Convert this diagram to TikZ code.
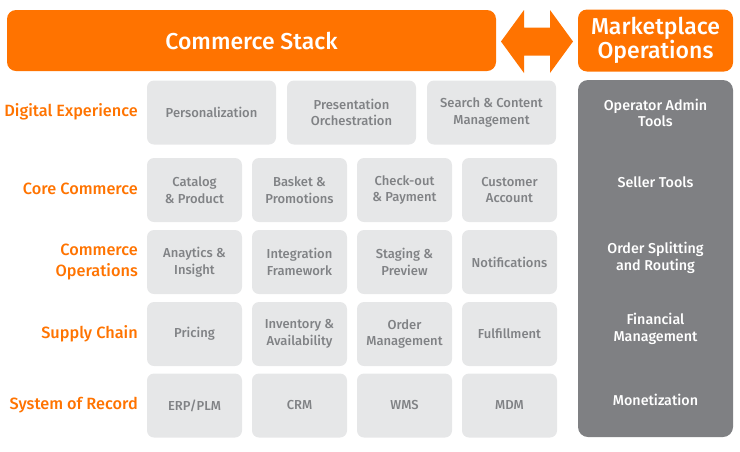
\documentclass[tikz,border=0pt]{standalone}
\usepackage{fontspec}
\setmainfont{Fira Sans Medium}
\usetikzlibrary{positioning,calc}
\definecolor{stackorange}{HTML}{FF7300}
\definecolor{tilegray}{HTML}{E6E7E8}
\definecolor{textgray}{HTML}{808285}
\definecolor{opsgray}{HTML}{7F8083}

\begin{document}
\begin{tikzpicture}[x=1pt,y=-1pt,
  bar/.style={fill=stackorange,text=white,rounded corners=9pt,inner sep=0pt,align=center,
    font=\fontsize{23}{23.5}\selectfont},
  tile/.style={fill=tilegray,text=textgray,rounded corners=7pt,inner sep=0pt,align=center,
    minimum height=64pt,font=\fontsize{13}{16.5}\selectfont},
  rowlabel/.style={anchor=east,text=stackorange,align=right,inner sep=0pt,
    font=\fontsize{16.3}{21.5}\selectfont},
  opstext/.style={text=white,align=center,inner sep=0pt,font=\fontsize{14.3}{16.8}\selectfont}]
\useasboundingbox (0,0) rectangle (740,451);
% header bars
\node[bar,minimum width=489pt,minimum height=61pt] (stack) at (251.5,40.5) {Commerce Stack};
\node[bar,minimum width=155pt,minimum height=62pt] (market) at (655.5,40.5) {Marketplace\\Operations};
\coordinate (link) at ($(stack.east)!0.5!(market.west)+(0,1)$);
\fill[stackorange] ($(link)+(-36,0)$) -- ($(link)+(-13,-31.5)$) -- ($(link)+(-13,-14)$)
  -- ($(link)+(13,-14)$) -- ($(link)+(13,-31.5)$) -- ($(link)+(36,0)$) -- ($(link)+(13,31.5)$)
  -- ($(link)+(13,14)$) -- ($(link)+(-13,14)$) -- ($(link)+(-13,31.5)$) -- cycle;
% row labels
\node[rowlabel] (lbldigital) at (138,112) {Digital Experience};
\node[rowlabel] (lblcore) at (138,189) {Core Commerce};
\node[rowlabel] (lblops) at (138,262) {Commerce\\Operations};
\node[rowlabel] (lblsupply) at (138,334) {Supply Chain};
\node[rowlabel] (lblrecord) at (138,405) {System of Record};
% commerce stack tiles
\foreach \txt [count=\i] in {{Personalization},{Presentation\\Orchestration},{Search \& Content\\Management}}
  \node[tile,minimum width=129pt] (digital\i) at (71.5+140*\i,112.5) {\txt};
\foreach \txt [count=\i] in {{Catalog\\\& Product},{Basket \&\\Promotions},{Check-out\\\& Payment},{Customer\\Account}}
  \node[tile,minimum width=95pt] (core\i) at (89.5+105*\i,190) {\txt};
\foreach \txt [count=\i] in {{Anaytics \&\\Insight},{Integration\\Framework},{Staging \&\\Preview},{Notifications}}
  \node[tile,minimum width=95pt] (ops\i) at (89.5+105*\i,262) {\txt};
\foreach \txt [count=\i] in {{Pricing},{Inventory \&\\Availability},{Order\\Management},{Fulfillment}}
  \node[tile,minimum width=95pt] (supply\i) at (89.5+105*\i,334) {\txt};
\foreach \txt [count=\i] in {{ERP/PLM},{CRM},{WMS},{MDM}}
  \node[tile,minimum width=95pt] (record\i) at (89.5+105*\i,405.5) {\txt};
% marketplace column
\node[fill=opsgray,rounded corners=10pt,inner sep=0pt,minimum width=155pt,minimum height=357pt]
  (opscol) at (655.5,258.5) {};
\node[opstext] (admin) at (655.5,113) {Operator Admin\\Tools};
\node[opstext] (seller) at (655.5,182) {Seller Tools};
\node[opstext] (split) at (655.5,258) {Order Splitting\\and Routing};
\node[opstext] (finance) at (655.5,329) {Financial\\Management};
\node[opstext] (monet) at (655.5,400) {Monetization};
\end{tikzpicture}
\end{document}
